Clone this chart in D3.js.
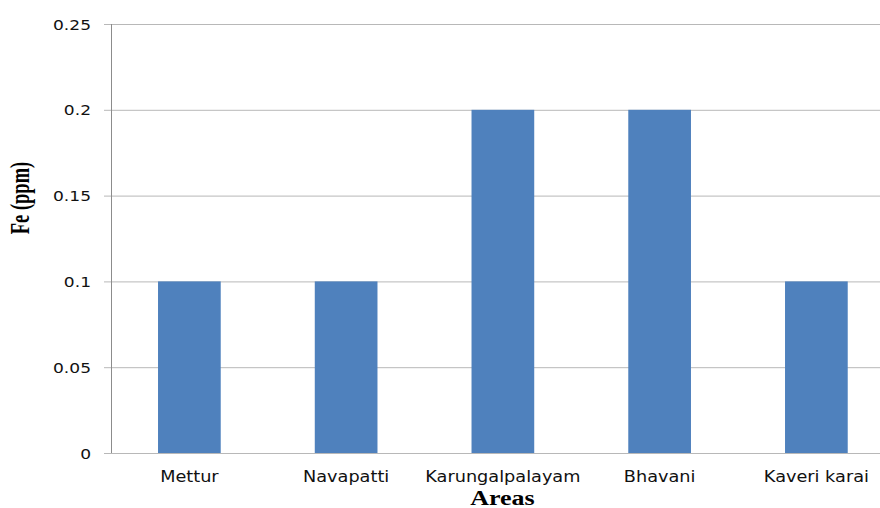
<!DOCTYPE html>
<html>
<head>
<meta charset="utf-8">
<script src="https://cdn.jsdelivr.net/npm/d3@7"></script>
<style>
  html, body { margin: 0; padding: 0; background: #fff; }
  svg { display: block; }
</style>
</head>
<body>
<svg id="chart" width="880" height="508"></svg>
<script>
// Iron concentration per sampling area
const areas = ["Mettur", "Navapatti", "Karungalpalayam", "Bhavani", "Kaveri karai"];
const feValues = [0.1, 0.1, 0.2, 0.2, 0.1];
const yTicks = [0, 0.05, 0.1, 0.15, 0.2, 0.25];
const yTickLabels = ["0", "0.05", "0.1", "0.15", "0.2", "0.25"];

const svg = d3.select("#chart");
const plotLeft = 111, plotRight = 894.75, plotTop = 24, plotBottom = 453;
const stretch = 1.22; // horizontal widening of the lettering

const x = d3.scaleBand().domain(areas).range([plotLeft, plotRight]).padding(0);
const y = d3.scaleLinear().domain([0, 0.25]).range([plotBottom, plotTop]);

// Gridlines + y tick labels
const yAxis = d3.axisLeft(y)
  .tickValues(yTicks)
  .tickFormat((d, i) => yTickLabels[i])
  .tickSize(-(plotRight - plotLeft + 7))
  .tickPadding(0);

const gy = svg.append("g")
  .attr("transform", `translate(${plotLeft - 7},0)`)
  .call(yAxis);
gy.select(".domain").remove();
gy.selectAll(".tick line").attr("stroke", "#b8b8b8").attr("stroke-width", 1);
gy.selectAll(".tick text")
  .attr("x", null)
  .attr("dy", "0.36em")
  .attr("transform", `translate(-13,0) scale(${stretch},1)`)
  .attr("fill", "#111")
  .style("font-family", "'DejaVu Sans', Verdana, sans-serif")
  .style("font-size", "14px");

// Bars
const barW = x.bandwidth() * 0.4;
svg.append("g").selectAll("rect")
  .data(areas.map((a, i) => ({ area: a, value: feValues[i] })))
  .join("rect")
  .attr("x", d => x(d.area) + (x.bandwidth() - barW) / 2)
  .attr("y", d => y(d.value))
  .attr("width", barW)
  .attr("height", d => y(0) - y(d.value))
  .attr("fill", "#4F81BD");

// Vertical axis line
svg.append("line")
  .attr("x1", plotLeft + 0.5).attr("x2", plotLeft + 0.5)
  .attr("y1", y(0.25)).attr("y2", y(0))
  .attr("stroke", "#8c8c8c").attr("stroke-width", 1);

// Category labels
const xAxis = d3.axisBottom(x).tickSize(0).tickPadding(0);
const gx = svg.append("g")
  .attr("transform", `translate(0,${plotBottom})`)
  .call(xAxis);
gx.select(".domain").remove();
gx.selectAll(".tick text")
  .attr("y", null)
  .attr("dy", null)
  .attr("transform", `translate(0,29) scale(1.18,1)`)
  .attr("fill", "#111")
  .style("font-family", "'DejaVu Sans', Verdana, sans-serif")
  .style("font-size", "15px");

// Axis titles
svg.append("text")
  .attr("transform", `translate(${(plotLeft + plotRight) / 2 - 0.5},505) scale(1.3,1)`)
  .attr("text-anchor", "middle")
  .style("font-family", "'Liberation Serif', 'Times New Roman', serif")
  .style("font-weight", "bold")
  .style("font-size", "20px")
  .attr("fill", "#000")
  .text("Areas");

svg.append("text")
  .attr("transform", `translate(29,198) scale(1.5,1) rotate(-90)`)
  .attr("text-anchor", "middle")
  .style("font-family", "'Liberation Serif', 'Times New Roman', serif")
  .style("font-weight", "bold")
  .style("font-size", "18.5px")
  .attr("fill", "#000")
  .text("Fe (ppm)");
</script>
</body>
</html>
